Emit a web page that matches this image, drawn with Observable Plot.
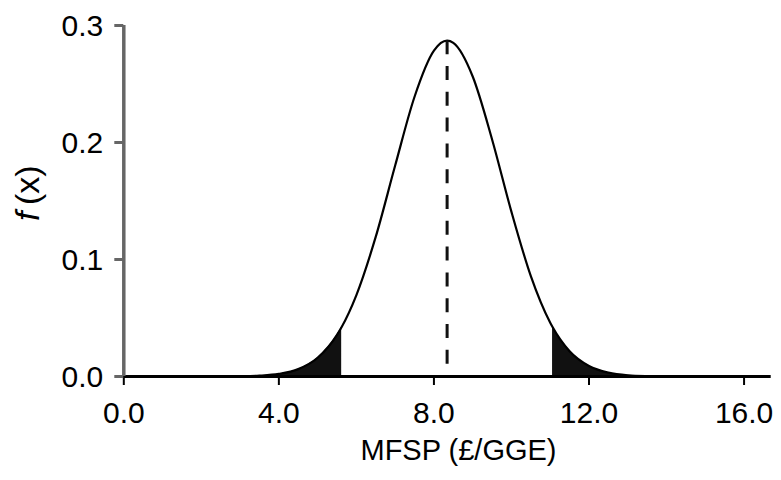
<!DOCTYPE html>
<html>
<head>
<meta charset="utf-8">
<script src="https://cdn.jsdelivr.net/npm/d3@7"></script>
<script src="https://cdn.jsdelivr.net/npm/@observablehq/plot@0.6"></script>
<style>
  html, body { margin: 0; padding: 0; background: #fff; }
  #chart { width: 781px; height: 480px; }
</style>
</head>
<body>
<div id="chart"></div>
<script>
// MFSP values (£/GGE) at which the density curve was read
const mfsp = [1.0, 1.5, 2.0, 2.5, 3.0, 3.5, 4.0, 4.5, 5.0, 5.5, 5.62, 6.0, 6.5, 7.0, 7.5, 8.0, 8.34,
  8.5, 9.0, 9.5, 10.0, 10.5, 11.0, 11.06, 11.5, 12.0, 12.5, 13.0, 13.5, 14.0, 14.5, 15.0, 15.5, 16.0, 16.5];
// probability density f(x)
const density = [0, 0, 0.00001, 0.00004, 0.0002, 0.0007, 0.0022, 0.0063, 0.0160, 0.0356, 0.0423, 0.0696, 0.1195,
  0.1803, 0.2391, 0.2785, 0.2870, 0.2851, 0.2564, 0.2026, 0.1407, 0.0858, 0.0460, 0.0423, 0.0216, 0.0090,
  0.0033, 0.0010, 0.0003, 0.0001, 0, 0, 0, 0, 0];
// mean (dashed line) and shaded tail limits
const meanMFSP = 8.34;
const peakDensity = 0.287;
const lowerCut = 5.62;
const upperCut = 11.06;
// axes
const xTicks = [0, 4, 8, 12, 16];
const yTicks = [0, 0.1, 0.2, 0.3];
const xLabel = "MFSP (£/GGE)";
const yLabelItalic = "f";
const yLabelRest = "(x)";

const data = mfsp.map((x, i) => ({x, y: density[i]}));
const font = "'Liberation Sans', Arial, Helvetica, sans-serif";
const fmt = d3.format(".1f");

const chart = Plot.plot({
  width: 781,
  height: 480,
  marginLeft: 123.3,
  marginRight: 10.3,
  marginTop: 25,
  marginBottom: 104,
  style: {fontFamily: font, background: "#fff", color: "#000", overflow: "visible"},
  x: {domain: [0, 16.7]},
  y: {domain: [0, 0.3]},
  marks: [
    Plot.areaY(data.filter(d => d.x <= lowerCut), {x: "x", y: "y", fill: "#111", curve: "monotone-x"}),
    Plot.areaY(data.filter(d => d.x >= upperCut), {x: "x", y: "y", fill: "#111", curve: "monotone-x"}),
    Plot.line(data, {x: "x", y: "y", stroke: "#000", strokeWidth: 2.2, curve: "monotone-x"}),
    Plot.ruleX([meanMFSP], {x: d => d, y1: peakDensity, y2: 0, stroke: "#111", strokeWidth: 3, strokeDasharray: "14,11.8"}),
    Plot.ruleY([0], {x1: 0, x2: 16.7, stroke: "#000", strokeWidth: 3}),
    Plot.axisX(xTicks, {tickSize: 9, tickFormat: () => "", label: null, stroke: "#000", strokeWidth: 2}),
    Plot.axisY(yTicks, {tickSize: 9, tickFormat: () => "", label: null, stroke: "#666", strokeWidth: 3}),
    Plot.ruleX([0], {y1: 0, y2: 0.3, stroke: "#666", strokeWidth: 3.5}),
    // tick labels
    Plot.text(xTicks, {x: d => d, y: 0, text: d => fmt(d), dy: 37, fontSize: 30,
      textAnchor: "middle", lineAnchor: "middle", fill: "#000"}),
    Plot.text(yTicks, {x: 0, y: d => d, text: d => fmt(d), dx: -20.5, dy: 1, fontSize: 30,
      textAnchor: "end", lineAnchor: "middle", fill: "#000"}),
    // axis titles
    Plot.text([xLabel], {text: d => d, frameAnchor: "bottom", dx: 11, dy: 74, fontSize: 29,
      textAnchor: "middle", lineAnchor: "middle", fill: "#000"}),
    Plot.text([yLabelRest], {text: d => d, frameAnchor: "left", dx: -96, dy: 4, rotate: -90,
      fontSize: 34, textAnchor: "start", lineAnchor: "middle", fill: "#000"}),
    Plot.text([yLabelItalic], {text: d => d, frameAnchor: "left", dx: -96, dy: 20, rotate: -90,
      fontSize: 34, fontStyle: "italic", textAnchor: "start", lineAnchor: "middle", fill: "#000"})
  ]
});
document.getElementById("chart").appendChild(chart);
</script>
</body>
</html>
